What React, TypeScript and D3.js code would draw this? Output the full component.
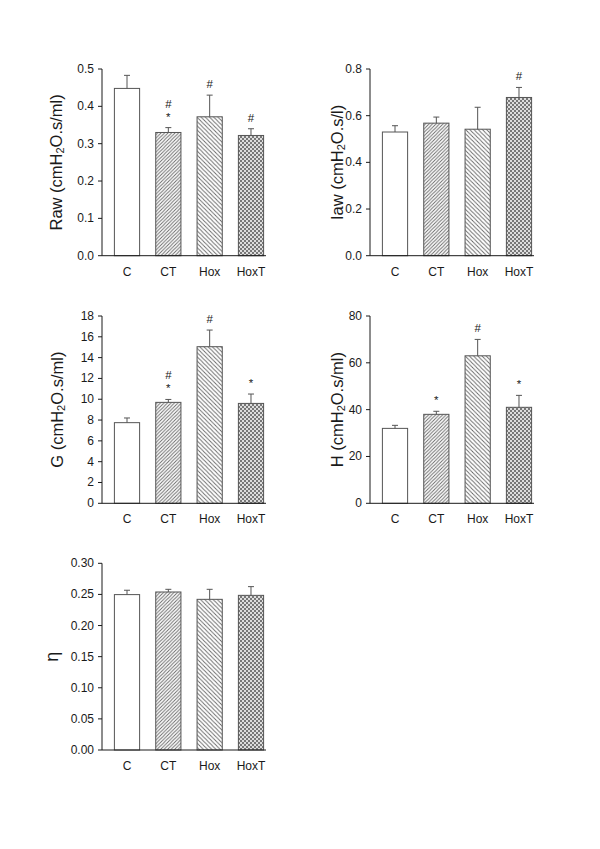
import * as d3 from 'd3';

const CATEGORIES = ['C', 'CT', 'Hox', 'HoxT'];
const FILLS = ['#ffffff', 'url(#hatchCT)', 'url(#hatchHox)', 'url(#checkHoxT)'];

const RAW_MEAN = [0.448, 0.33, 0.372, 0.322];
const RAW_SEM = [0.035, 0.013, 0.058, 0.018];
const RAW_MARKS = [[], ['#', '*'], ['#'], ['#']];

const IAW_MEAN = [0.53, 0.568, 0.542, 0.678];
const IAW_SEM = [0.027, 0.026, 0.094, 0.043];
const IAW_MARKS = [[], [], [], ['#']];

const G_MEAN = [7.75, 9.7, 15.05, 9.6];
const G_SEM = [0.45, 0.28, 1.6, 0.9];
const G_MARKS = [[], ['#', '*'], ['#'], ['*']];

const H_MEAN = [32.0, 38.0, 63.0, 41.0];
const H_SEM = [1.3, 1.3, 7.0, 5.1];
const H_MARKS = [[], ['*'], ['#'], ['*']];

const ETA_MEAN = [0.2497, 0.2539, 0.2421, 0.2485];
const ETA_SEM = [0.007, 0.0043, 0.0161, 0.014];
const ETA_MARKS = [[], [], [], []];

const RAW_TICKS = [0, 0.1, 0.2, 0.3, 0.4, 0.5];
const IAW_TICKS = [0, 0.2, 0.4, 0.6, 0.8];
const G_TICKS = [0, 2, 4, 6, 8, 10, 12, 14, 16, 18];
const H_TICKS = [0, 20, 40, 60, 80];
const ETA_TICKS = [0, 0.05, 0.1, 0.15, 0.2, 0.25, 0.3];

const FONT = 'Liberation Sans, Arial, sans-serif';
const INK = '#1a1a1a';
const EDGE = '#555';

interface PanelProps {
  axisX: number;
  top: number;
  bottom: number;
  ticks: number[];
  fmt: string;
  mean: number[];
  sem: number[];
  marks: string[][];
  label: string;
  labelSub?: [string, string, string];
  labelX: number;
  labelSize?: number;
}

function Panel(p: PanelProps) {
  const y = d3.scaleLinear()
    .domain([0, p.ticks[p.ticks.length - 1]])
    .range([p.bottom, p.top]);
  const x = d3.scaleBand()
    .domain(CATEGORIES)
    .range([p.axisX, p.axisX + 174])
    .paddingInner(0.39)
    .paddingOuter(0.3);
  const fmt = d3.format(p.fmt);
  const axisEnd = p.axisX + 164;
  const labelY = (p.top + p.bottom) / 2;

  return (
    <g>
      {/* bars + error bars */}
      {CATEGORIES.map((c, i) => {
        const bx = x(c) ?? 0;
        const bw = x.bandwidth();
        const cx = bx + bw / 2;
        const yTop = y(p.mean[i]);
        const yErr = y(p.mean[i] + p.sem[i]);
        return (
          <g key={c}>
            <rect x={bx} y={yTop} width={bw} height={p.bottom - yTop} fill={FILLS[i]} stroke={EDGE} strokeWidth={1} />
            <line x1={cx} x2={cx} y1={yTop} y2={yErr} stroke={EDGE} strokeWidth={1} />
            <line x1={cx - 3} x2={cx + 3} y1={yErr} y2={yErr} stroke={EDGE} strokeWidth={1} />
            {p.marks[i].map((m, k) => {
              const n = p.marks[i].length;
              return (
                <text key={k} x={cx} y={yErr - 7 - (n - 1 - k) * 13} textAnchor="middle" fontSize={11.5} fontFamily={FONT} fill={INK}>
                  {m}
                </text>
              );
            })}
          </g>
        );
      })}

      {/* axes */}
      <line x1={p.axisX} x2={p.axisX} y1={p.top} y2={p.bottom} stroke={INK} strokeWidth={1} />
      <line x1={p.axisX} x2={axisEnd} y1={p.bottom} y2={p.bottom} stroke={INK} strokeWidth={1} />
      {p.ticks.map(t => (
        <g key={t}>
          <line x1={p.axisX - 4} x2={p.axisX} y1={y(t)} y2={y(t)} stroke={INK} strokeWidth={1} />
          <text x={p.axisX - 8} y={y(t)} textAnchor="end" dominantBaseline="central" fontSize={12} fontFamily={FONT} fill={INK}>
            {fmt(t)}
          </text>
        </g>
      ))}
      {CATEGORIES.map(c => (
        <text key={c} x={(x(c) ?? 0) + x.bandwidth() / 2} y={p.bottom + 20} textAnchor="middle" fontSize={12} fontFamily={FONT} fill={INK}>
          {c}
        </text>
      ))}

      {/* y label */}
      <text transform={`translate(${p.labelX},${labelY}) rotate(-90)`} textAnchor="middle" dominantBaseline="central" fontSize={p.labelSize ?? 16.5} fontFamily={FONT} fill={INK}>
        {p.labelSub ? (
          <>
            {p.labelSub[0]}
            <tspan fontSize={11} dy={4}>{p.labelSub[1]}</tspan>
            <tspan dy={-4}>{p.labelSub[2]}</tspan>
          </>
        ) : p.label}
      </text>
    </g>
  );
}

export default function App() {
  return (
    <svg width={600} height={849} style={{ position: 'absolute', left: 0, top: 0, background: '#fff' }}>
      <defs>
        <pattern id="hatchCT" patternUnits="userSpaceOnUse" width={3.5} height={3.5}>
          <rect width={3.5} height={3.5} fill="#fff" />
          <path d="M-1,1 L1,-1 M0,3.5 L3.5,0 M2.5,4.5 L4.5,2.5" stroke="#666" strokeWidth={0.9} />
        </pattern>
        <pattern id="hatchHox" patternUnits="userSpaceOnUse" width={4.2} height={4.2}>
          <rect width={4.2} height={4.2} fill="#fff" />
          <path d="M-1,3.2 L1,5.2 M0,0 L4.2,4.2 M3.2,-1 L5.2,1" stroke="#666" strokeWidth={0.9} />
        </pattern>
        <pattern id="checkHoxT" patternUnits="userSpaceOnUse" width={4} height={4}>
          <rect width={4} height={4} fill="#ddd" />
          <rect x={0} y={0} width={2} height={2} fill="#777" />
          <rect x={2} y={2} width={2} height={2} fill="#777" />
        </pattern>
      </defs>

      <Panel axisX={102} top={69} bottom={255.7} ticks={RAW_TICKS} fmt=".1f" mean={RAW_MEAN} sem={RAW_SEM} marks={RAW_MARKS}
        label="Raw (cmH2O.s/ml)" labelSub={['Raw (cmH', '2', 'O.s/ml)']} labelX={56} />
      <Panel axisX={370} top={69} bottom={255.7} ticks={IAW_TICKS} fmt=".1f" mean={IAW_MEAN} sem={IAW_SEM} marks={IAW_MARKS}
        label="Iaw (cmH2O.s/l)" labelSub={['Iaw (cmH', '2', 'O.s/l)']} labelX={337} />
      <Panel axisX={102} top={316} bottom={503.3} ticks={G_TICKS} fmt="d" mean={G_MEAN} sem={G_SEM} marks={G_MARKS}
        label="G (cmH2O.s/ml)" labelSub={['G (cmH', '2', 'O.s/ml)']} labelX={57} />
      <Panel axisX={370} top={316} bottom={503.3} ticks={H_TICKS} fmt="d" mean={H_MEAN} sem={H_SEM} marks={H_MARKS}
        label="H (cmH2O.s/ml)" labelSub={['H (cmH', '2', 'O.s/ml)']} labelX={337} />
      <Panel axisX={102} top={563.3} bottom={750} ticks={ETA_TICKS} fmt=".2f" mean={ETA_MEAN} sem={ETA_SEM} marks={ETA_MARKS}
        label="η" labelX={52} labelSize={18} />
    </svg>
  );
}
